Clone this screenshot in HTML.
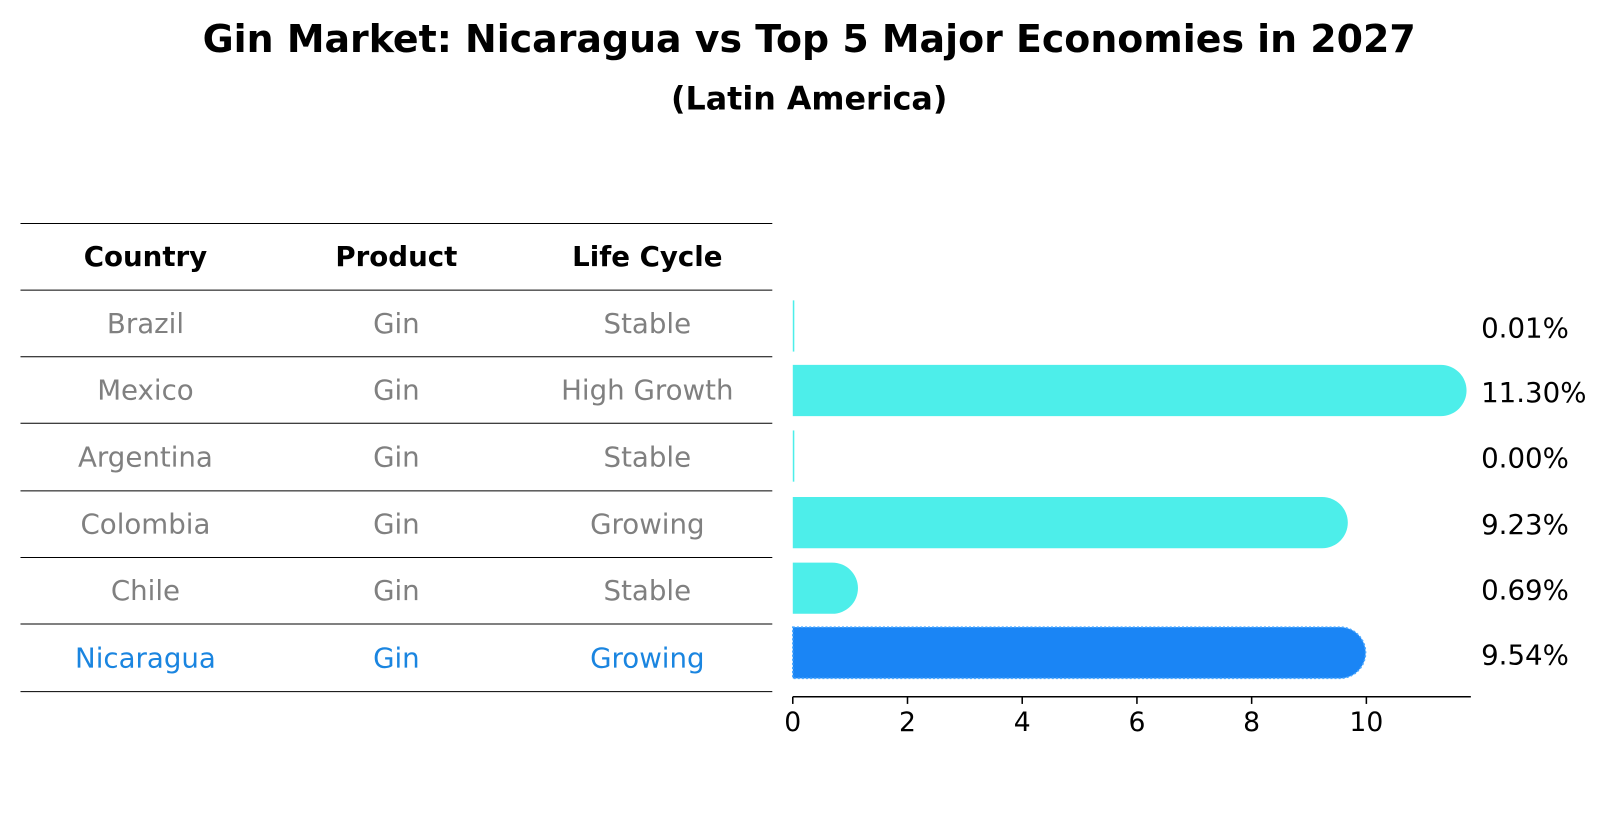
<!DOCTYPE html>
<html><head><meta charset="utf-8"><style>
html,body{margin:0;padding:0;background:#fff;overflow:hidden;}
svg{display:block;}
</style></head><body>
<svg width="1604" height="823" viewBox="0 0 1566 803" xmlns="http://www.w3.org/2000/svg" font-family="DejaVu Sans, Liberation Sans, sans-serif">
<text x="790" y="38" text-anchor="middle" dominant-baseline="central" font-size="37" font-weight="bold">Gin Market: Nicaragua vs Top 5 Major Economies in 2027</text>
<text x="790" y="97" text-anchor="middle" dominant-baseline="central" font-size="31" font-weight="bold">(Latin America)</text>
<g id="table"></g>
<g id="bars"></g>
</svg>
<script>
const countries=["Brazil","Mexico","Argentina","Colombia","Chile","Nicaragua"];
const products=["Gin","Gin","Gin","Gin","Gin","Gin"];
const lifeCycles=["Stable","High Growth","Stable","Growing","Stable","Growing"];
const values=[0.01,11.30,0.00,9.23,0.69,9.54];
const labels=["0.01%","11.30%","0.00%","9.23%","0.69%","9.54%"];
const ticks=[0,2,4,6,8,10];
const NS="http://www.w3.org/2000/svg";
function mk(t,a,p){const e=document.createElementNS(NS,t);for(const k in a)e.setAttribute(k,a[k]);p.appendChild(e);return e;}
const tb=document.getElementById('table');
const colX=[142,387,632];
const lineY=[218,283,348,413,479,544,609,675];
lineY.forEach((y,i)=>{const l=mk('line',{x1:20,x2:754,y1:y,y2:y,stroke:'#000','stroke-width':1},tb);

});
["Country","Product","Life Cycle"].forEach((h,i)=>{const t=mk('text',{x:colX[i],y:250,'text-anchor':'middle','dominant-baseline':'central','font-size':27,'font-weight':'bold'},tb);t.textContent=h;

});
const rowC=i=>(lineY[i+1]+lineY[i+2])/2;
countries.forEach((c,i)=>{const col=i==countries.length-1?'#1a85e0':'#808080';
[c,products[i],lifeCycles[i]].forEach((v,j)=>{const t=mk('text',{x:colX[j],y:rowC(i),'text-anchor':'middle','dominant-baseline':'central','font-size':27,fill:col},tb);t.textContent=v;

});});
const bg=document.getElementById('bars');
const x0=774,sc=56,bh=50,r=25;
const xs=v=>x0+v*sc;
const barC=[318,381,445,510,574,637];
values.forEach((v,i)=>{const last=i==values.length-1;const col=last?'#1a85f5':'#4deeea';
const y=barC[i]-bh/2,xe=xs(v);let el;
if(v<0.05){el=mk('rect',{x:x0,y:y,width:1.5,height:bh,fill:col},bg);}
else{el=mk('path',{d:`M${x0},${y}H${xe}A${r},${r} 0 0 1 ${xe},${y+bh}H${x0}Z`,fill:col},bg);
if(last){el.setAttribute('stroke','#4aa8ff');el.setAttribute('stroke-dasharray','2,2');el.setAttribute('stroke-width','1.5');}}


const t=mk('text',{x:1446,y:barC[i]+2,'dominant-baseline':'central','font-size':27},bg);t.textContent=labels[i];

});
const ax=mk('line',{x1:x0,x2:1436,y1:680,y2:680,stroke:'#000','stroke-width':1.5},bg);


ticks.forEach(v=>{const l=mk('line',{x1:xs(v),x2:xs(v),y1:680,y2:687,stroke:'#000','stroke-width':1.5},bg);


const t=mk('text',{x:xs(v),y:705,'text-anchor':'middle','dominant-baseline':'central','font-size':26},bg);t.textContent=v;

});
</script>
</body></html>
